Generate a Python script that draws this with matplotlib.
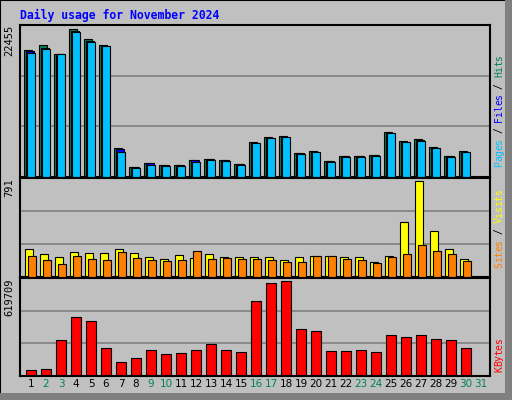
import matplotlib
matplotlib.use("Agg")
import matplotlib.pyplot as plt
from matplotlib.patches import Rectangle
import numpy as np

days = list(range(1, 31))
day_labels = [str(d) for d in range(1, 32)]
weekends = [2, 3, 9, 10, 16, 17, 23, 24, 30, 31]
hits = [19400, 20010, 18790, 22455, 20930, 20160, 4430, 1530, 2140, 1830, 1830, 2600, 2750, 2600, 1990,
        5350, 6110, 6260, 3670, 3970, 2440, 3210, 3210, 3360, 6870, 5500, 5800, 4580, 3210, 3970]
files = [19100, 19700, 18700, 22200, 20700, 19950, 4250, 1450, 2080, 1780, 1780, 2520, 2690, 2540, 1940,
         5200, 5950, 6120, 3580, 3880, 2380, 3130, 3140, 3290, 6720, 5380, 5670, 4470, 3130, 3880]
pages = [18900, 19550, 18700, 22100, 20600, 19900, 3800, 1350, 1900, 1650, 1700, 2350, 2600, 2450, 1850,
         5150, 5900, 6050, 3450, 3800, 2250, 3050, 3050, 3250, 6650, 5300, 5550, 4400, 3050, 3800]
visits = [232, 189, 163, 206, 198, 198, 232, 198, 163, 146, 181, 155, 189, 163, 163, 163, 163, 138, 163, 172,
          172, 163, 163, 120, 172, 456, 791, 378, 232, 146]
sites = [172, 138, 103, 172, 146, 138, 206, 155, 138, 129, 138, 215, 146, 155, 146, 146, 138, 120, 120, 172,
         172, 146, 138, 112, 163, 189, 267, 215, 189, 129]
kbytes = [40860, 47670, 231540, 381360, 360930, 183870, 88530, 115770, 170250, 143010, 149820, 170250,
          211110, 170250, 156630, 490320, 606090, 619709, 306450, 292830, 163440, 163440, 170250, 156630,
          265590, 251970, 265590, 238350, 231540, 183870]

W, H = 512, 400
BG = "#C0C0C0"
fig = plt.figure(figsize=(W/100, H/100), dpi=100, facecolor=BG)
mono = "DejaVu Sans Mono"

# frame
fig.patches.append(Rectangle((0, 0), 1, 1, transform=fig.transFigure, fill=False, ec="black", lw=1.5))
fig.patches.append(Rectangle((505/W, 0), 7/W, 1, transform=fig.transFigure, fc="#808080", ec="none"))
fig.patches.append(Rectangle((0, 0), 1, 7/H, transform=fig.transFigure, fc="#808080", ec="none"))

def px_axes(top, bot):
    return fig.add_axes([20/W, 1-bot/H, 470/W, (bot-top)/H])

x = np.array(days, dtype=float)
xlim = (1-11/15, 1-11/15+470/15)

def style(ax, ymax):
    ax.set_facecolor(BG)
    ax.set_xlim(*xlim)
    ax.set_ylim(0, ymax*1.03)
    for s in ax.spines.values():
        s.set_color("black"); s.set_linewidth(1.5)
    for f in (1/3, 2/3):
        ax.axhline(ymax*1.03*f, color="#808080", lw=1.2, zorder=0)
    ax.set_xticks([]); ax.set_yticks([])
    ax.text(-0.013, 1.0, str(ymax), transform=ax.transAxes, rotation=90, ha="right", va="top",
            family=mono, fontsize=7.5)

ax1 = px_axes(25, 177)
style(ax1, max(hits))
u = 1/15
bw = 8*u
ax1.bar(x-3*u, hits, bw, color="#00805C", ec="black", lw=0.8, zorder=2)
ax1.bar(x-1.5*u, files, bw, color="#0000FF", ec="black", lw=0.8, zorder=3)
ax1.bar(x+0*u, pages, bw, color="#00C0FF", ec="black", lw=0.8, zorder=4)

ax2 = px_axes(178, 277)
style(ax2, max(visits))
ax2.bar(x-2*u, visits, bw, color="#FFFF00", ec="black", lw=0.8, zorder=2)
ax2.bar(x+1*u, sites, bw, color="#FF8000", ec="black", lw=0.8, zorder=3)

ax3 = px_axes(278, 376)
style(ax3, max(kbytes))
ax3.bar(x, kbytes, 10*u, color="#FF0000", ec="black", lw=0.8, zorder=2)

ax3.set_xticks(range(1, 32))
ax3.set_xticklabels(day_labels, family="DejaVu Sans", fontsize=7.5)
ax3.tick_params(axis="x", length=0, pad=2)
for lab, d in zip(ax3.get_xticklabels(), range(1, 32)):
    lab.set_color("#00805C" if d in weekends else "black")

fig.text(20/W, 1-15/H, "Daily usage for November 2024", color="#0000FF", family=mono,
         fontweight="bold", fontsize=8.3, va="center", ha="left")

def vlabel(pieces, ybottom, xpx=499, step=5.6):
    y = ybottom
    for txt, col in pieces:
        for ch in txt:
            fig.text(xpx/W, 1-y/H, ch, rotation=90, color=col, family=mono, fontsize=7,
                     ha="center", va="bottom")
            y -= step

vlabel([("Pages", "#00C0FF"), (" / ", "black"), ("Files", "#0000FF"), (" / ", "black"), ("Hits", "#00805C")], 167)
vlabel([("Sites", "#FF8000"), (" / ", "black"), ("Visits", "#FFFF00")], 268)
vlabel([("KBytes", "#FF0000")], 372)

fig.savefig("out.png", dpi=100, facecolor=BG)
